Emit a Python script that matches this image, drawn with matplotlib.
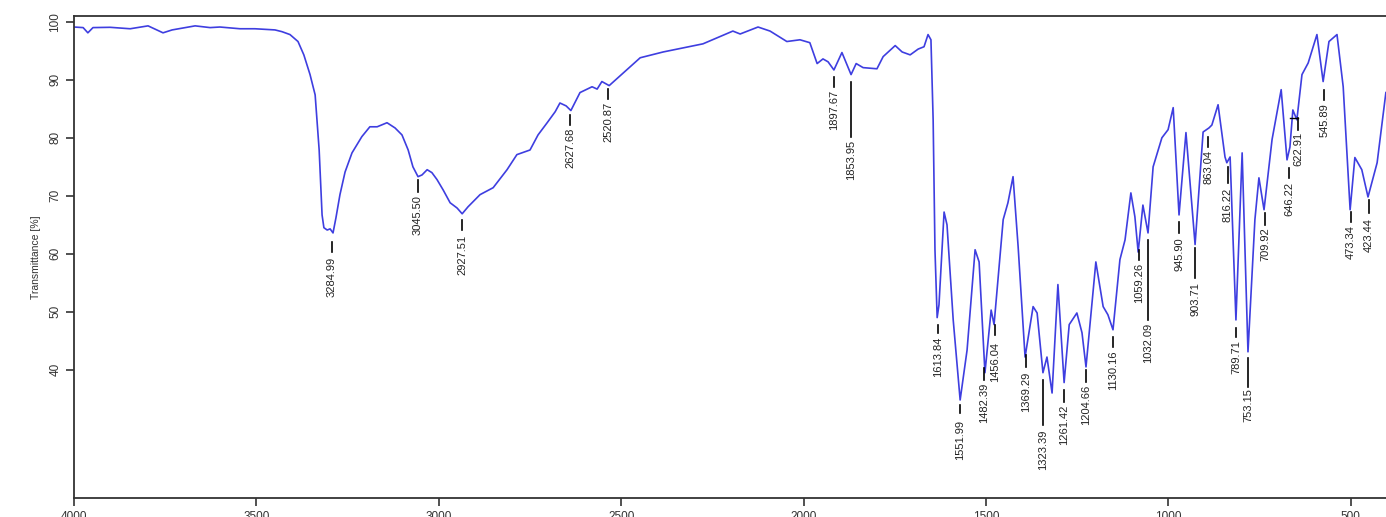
import matplotlib.pyplot as plt

# spectrum: wavenumber (cm-1) and transmittance (%)
wavenumber = [
    4000, 3975, 3962, 3948, 3901, 3846, 3797, 3756, 3731, 3668, 3627, 3600,
    3545, 3504, 3449, 3430, 3408, 3386, 3370, 3353, 3339, 3328, 3320, 3315,
    3306, 3298, 3290, 3282, 3271, 3257, 3238, 3211, 3189, 3169, 3142, 3120,
    3101, 3084, 3071, 3057, 3046, 3032, 3019, 3005, 2988, 2969, 2950, 2936,
    2920, 2887, 2851, 2813, 2786, 2750, 2728, 2703, 2681, 2668, 2651, 2638,
    2613, 2580, 2566, 2553, 2533, 2503, 2448, 2385, 2276, 2194, 2174, 2125,
    2092, 2046, 2010, 1983, 1963, 1947, 1933, 1917, 1895, 1870, 1856, 1837,
    1799, 1782, 1749, 1730, 1708, 1686, 1670, 1659, 1651, 1645, 1640, 1634,
    1629, 1615, 1607, 1590, 1571, 1552, 1530, 1519, 1503, 1486, 1478, 1453,
    1440, 1426, 1412, 1393, 1371, 1360, 1344, 1333, 1319, 1303, 1286, 1272,
    1251, 1237, 1226, 1199, 1179, 1166, 1152, 1133, 1119, 1103, 1092, 1083,
    1070, 1056, 1042, 1018, 1001, 987, 971, 952, 927, 905, 889, 881,
    864, 845, 840, 831, 815, 798, 782, 763, 752, 738, 716, 691,
    675, 667, 659, 648, 634, 617, 593, 576, 560, 538, 521, 502,
    489, 470, 453, 428, 404,
]
transmittance = [
    99.1, 99.0, 98.1, 99.0, 99.05, 98.8, 99.3, 98.1, 98.6, 99.3, 99.0, 99.1,
    98.8, 98.8, 98.6, 98.3, 97.8, 96.6, 94.3, 90.9, 87.4, 77.9, 66.7, 64.5,
    64.1, 64.3, 63.6, 66.2, 70.2, 74.1, 77.4, 80.2, 81.9, 81.9, 82.6, 81.7,
    80.5, 77.9, 75.0, 73.3, 73.6, 74.5, 74.0, 72.8, 71.0, 68.8, 67.9, 66.9,
    68.1, 70.2, 71.4, 74.5, 77.1, 77.9, 80.5, 82.6, 84.5, 86.0, 85.5, 84.7,
    87.8, 88.8, 88.4, 89.7, 89.0, 90.7, 93.8, 94.8, 96.2, 98.4, 97.9, 99.1,
    98.4, 96.6, 96.9, 96.4, 92.8, 93.6, 93.1, 91.7, 94.7, 90.9, 92.8, 92.1,
    91.9, 94.0, 95.9, 94.8, 94.3, 95.3, 95.7, 97.8, 96.9, 83.1, 60.7, 49.0,
    51.2, 67.2, 65.0, 48.6, 34.8, 43.4, 60.7, 58.6, 39.5, 50.3, 47.8, 65.9,
    68.8, 73.3, 61.2, 42.2, 50.9, 49.8, 39.5, 42.2, 36.0, 54.7, 37.8, 47.8,
    49.8, 46.4, 40.5, 58.6, 50.9, 49.5, 46.9, 59.0, 62.4, 70.5, 66.4, 60.3,
    68.4, 63.6, 75.0, 80.0, 81.4, 85.2, 66.7, 80.9, 61.6, 81.0, 81.7, 82.2,
    85.7, 76.7, 75.7, 76.7, 48.6, 77.4, 43.1, 65.9, 73.1, 67.6, 79.7, 88.3,
    76.2, 78.4, 84.8, 83.1, 90.9, 92.9, 97.8, 89.7, 96.6, 97.8, 88.8, 67.6,
    76.6, 74.5, 69.8, 75.7, 87.8,
]

# peak labels as printed, and where each marker sits on the axis
peak_labels = [
    "3284.99", "3045.50", "2927.51", "2627.68", "2520.87", "1897.67", "1853.95",
    "1613.84", "1551.99", "1482.39", "1456.04", "1369.29", "1323.39", "1261.42",
    "1204.66", "1130.16", "1059.26", "1032.09", "945.90", "903.71", "863.04",
    "816.22", "789.71", "753.15", "709.92", "646.22", "622.91", "545.89",
    "473.34", "423.44",
]
peak_positions = [
    3293, 3057, 2936, 2640, 2536, 1917, 1870, 1632, 1571, 1506, 1475, 1390,
    1344, 1286, 1226, 1152, 1081, 1056, 971, 927, 891, 837, 815, 782,
    735, 669, 645, 573, 500, 450,
]

# marker layout (in % units): top and bottom of the tick line, top of the text
line_top = [
    62.1, 72.8, 65.9, 84.0, 88.4, 90.5, 89.7, 47.8, 34.0, 40.3, 47.8, 42.6,
    38.3, 36.6, 40.0, 45.7, 60.7, 62.4, 65.5, 61.0, 80.2, 75.0, 47.2, 42.1,
    67.1, 74.8, 83.4, 88.3, 67.2, 69.3,
]
line_bottom = [
    60.3, 70.7, 64.1, 82.2, 86.7, 88.8, 80.2, 46.4, 32.6, 38.3, 46.0, 40.5,
    30.5, 34.5, 37.9, 44.0, 59.0, 48.6, 63.6, 55.9, 78.4, 72.2, 45.7, 37.1,
    65.0, 73.1, 81.4, 86.6, 65.5, 67.1,
]
text_top = [
    59.5, 70.2, 63.3, 81.7, 86.2, 88.3, 79.7, 45.7, 31.4, 37.8, 44.8, 39.7,
    29.7, 34.0, 37.4, 43.4, 58.4, 48.1, 62.9, 55.2, 77.9, 71.4, 45.2, 36.9,
    64.5, 72.4, 81.0, 86.0, 65.0, 66.2,
]

y_ticks = [40, 50, 60, 70, 80, 90, 100]
x_ticks = [4000, 3500, 3000, 2500, 2000, 1500, 1000, 500]

font = ["Liberation Sans Narrow", "Liberation Sans", "DejaVu Sans"]
plt.rcParams["font.family"] = font

fig = plt.figure(figsize=(13.86, 5.17), dpi=100)
ax = fig.add_axes([74 / 1386, 19 / 517, 1321 / 1386, 482 / 517])

ax.plot(wavenumber, transmittance, color="#3e3ee0", lw=1.2)

for label, pos, top, bottom, ttop in zip(peak_labels, peak_positions,
                                         line_top, line_bottom, text_top):
    ax.plot([pos, pos], [top, bottom], color="black", lw=1.2)
    ax.text(pos, ttop, label, rotation=90, ha="center", va="top",
            fontsize=8, color="#222222")

# small hook on the 622.91 leader
ax.plot([667, 645], [83.4, 83.4], color="black", lw=1.0)

ax.set_xlim(4000, 379)
ax.set_ylim(17.9, 101.0)
ax.set_yticks(y_ticks)
ax.set_xticks(x_ticks)
ax.set_yticklabels([str(t) for t in y_ticks], rotation=90, va="center")
ax.tick_params(axis="both", direction="out", length=6, width=1.2,
               labelsize=8.5, colors="#333333")
ax.tick_params(axis="y", pad=3)
ax.set_ylabel("Transmittance [%]", fontsize=7.5, labelpad=6, color="#333333")

for side in ["left", "bottom", "top"]:
    ax.spines[side].set_linewidth(1.3)
    ax.spines[side].set_color("#333333")
ax.spines["right"].set_visible(False)

fig.savefig("out.png", dpi=100)
